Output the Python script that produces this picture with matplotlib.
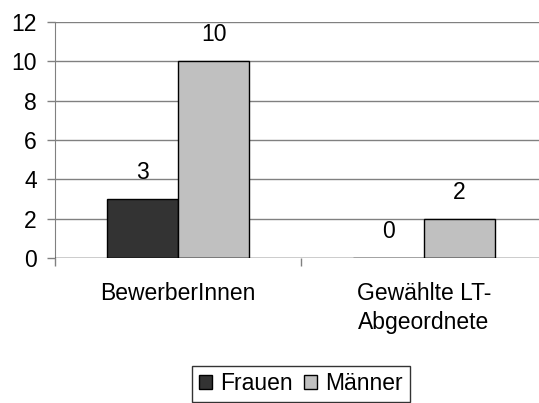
import numpy as np
import matplotlib.pyplot as plt

categories = ["BewerberInnen", "Gewählte LT-\nAbgeordnete"]
frauen = [3, 0]
maenner = [10, 2]
series_names = ["Frauen", "Männer"]
yticks = [0, 2, 4, 6, 8, 10, 12]

plt.rcParams["font.family"] = ["Liberation Sans", "DejaVu Sans"]
fs = 16.5

fig = plt.figure(figsize=(5.39, 4.03), dpi=100)
ax = fig.add_axes([55 / 539, 1 - 258 / 403, 492 / 539, 236 / 403])

x = np.arange(len(categories))
w = 0.29
b1 = ax.bar(x - w / 2, frauen, w, color="#333333", edgecolor="black", lw=1, label=series_names[0], zorder=3)
b2 = ax.bar(x + w / 2, maenner, w, color="#c0c0c0", edgecolor="black", lw=1, label=series_names[1], zorder=3)

# value labels above the bars
for bars, vals in [(b1, frauen), (b2, maenner)]:
    for r, v in zip(bars, vals):
        ax.annotate(str(v), (r.get_x() + r.get_width() / 2, v), xytext=(0, 19),
                    textcoords="offset points", ha="center", va="center", fontsize=fs)

ax.set_xlim(-0.5, 1.5)
ax.set_ylim(0, 12)
ax.set_yticks(yticks)
ax.set_yticklabels([str(t) for t in yticks], fontsize=fs)
for t in yticks[1:]:
    ax.axhline(t, color="#808080", lw=1, zorder=1)
ax.axhline(0, color="black", lw=1, zorder=4)

ax.set_xticks([-0.5, 0.5, 1.5])
ax.set_xticklabels([])
ax.set_xticks(x, minor=True)
ax.set_xticklabels(categories, minor=True, fontsize=fs)
for lbl in ax.get_xticklabels(minor=True):
    lbl.set_linespacing(1.35)
ax.tick_params(axis="x", which="minor", length=0, pad=17)
ax.tick_params(axis="x", which="major", length=6, color="#808080", width=1)
ax.tick_params(axis="y", length=6, color="#808080", width=1, pad=7)

for s in ["top", "right", "bottom"]:
    ax.spines[s].set_visible(False)
ax.spines["left"].set_color("#808080")

leg = ax.legend(loc="center", bbox_to_anchor=(301 / 539, 1 - 384 / 403),
                bbox_transform=fig.transFigure, ncol=2, fontsize=fs, frameon=True,
                fancybox=False, edgecolor="black", handlelength=0.57, handleheight=0.57,
                handletextpad=0.35, columnspacing=0.5, borderpad=0.3, borderaxespad=0)
leg.get_frame().set_linewidth(1)

fig.savefig("out.png", dpi=100)
